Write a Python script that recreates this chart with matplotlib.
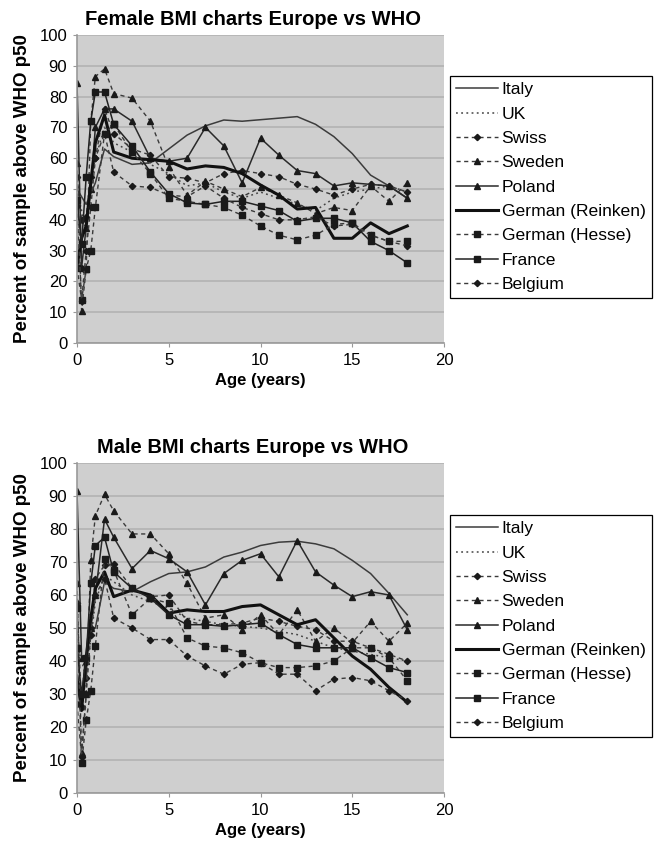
import matplotlib
matplotlib.use("Agg")
import matplotlib.pyplot as plt

plt.rcParams['font.family'] = ['Liberation Sans', 'DejaVu Sans']

# Age points (years)
ages = [0, 0.25, 0.5, 0.75, 1, 1.5, 2, 3, 4, 5, 6, 7, 8, 9, 10, 11, 12, 13, 14, 15, 16, 17, 18]
ages_short = [0, 0.5, 1, 1.5, 2, 3, 4, 5, 6, 7, 8, 9, 10, 11, 12, 13, 14, 15, 16, 17, 18]

series_names = ["Italy", "UK", "Swiss", "Sweden", "Poland",
                "German (Reinken)", "German (Hesse)", "France", "Belgium"]

# Female - percent of sample above WHO p50
f_italy = [50, 45, 52, 63, 60.5, 58, 58.5, 63, 67.5, 70.5, 72.4, 72, 72.5, 73, 73.5, 71, 67, 61.5, 54.5, 51, 47]
f_uk = [50, 36, 60, 70, 65, 62, 58, 55, 51, 52, 49, 47, 49, 47, 45, 43, 47, 49, 50, 51, 49]
f_swiss = [54, 40, 41, 54, 60, 76, 68, 63, 61, 54, 53.5, 52, 55, 56, 55, 54, 51.5, 50, 48, 50, 51.5, 51, 49]
f_sweden = [58.5, 10.5, 24, 72, 86.5, 89, 81, 79.5, 72, 57, 48, 52.5, 50, 47.5, 50.5, 48, 45.5, 42, 44, 43, 51, 46, 52]
f_poland = [84.5, 24.5, 37.5, 50, 70, 76, 76, 72, 60, 59, 60, 70, 64, 52, 66.5, 61, 56, 55, 51, 52, 51.5, 51, 47]
f_reinken = [25, 34, 38, 52, 65, 74, 62, 60, 59.5, 59, 56.5, 57.5, 57, 55, 51.3, 48, 43.5, 44, 34, 34, 39, 35.5, 38]
f_hesse = [24.5, 14, 24, 30, 44, 68, 71, 62, 55, 47, 46, 45, 44, 41.5, 38, 35, 33.5, 35, 38.5, 39, 35, 33, 33]
f_france = [46.5, 32, 54, 72, 81.5, 81.5, 71, 64, 55.5, 48.5, 45.5, 45, 46, 46, 44.5, 43, 39.5, 40.5, 40.5, 39, 33, 30, 26]
f_belgium = [44.5, 13.5, 30, 44, 60, 68, 55.5, 51, 50.5, 48, 47.5, 51, 47, 44, 42, 40, 40, 41, 38, 38.5, 35, 33, 31.5]

# Male
m_italy = [50, 50, 50, 64, 62, 61, 64, 66.5, 67, 68.5, 71.5, 73, 75, 76, 76.3, 75.5, 74, 70.5, 66.5, 60.5, 54]
m_uk = [45, 35, 58, 66, 64, 60, 58, 56, 53, 52, 51, 50.5, 50, 49, 48, 46, 44, 43, 42, 41, 40]
m_swiss = [57.5, 26, 35, 50, 65, 69, 69.5, 62, 59.5, 60, 52, 51, 51, 51.5, 53, 52, 50.5, 49.5, 46, 46, 44, 42, 40]
m_sweden = [63.5, 12, 30, 70.5, 84, 90.5, 85.5, 78.5, 78.5, 72.5, 63.5, 53, 54, 49.5, 54, 48, 55.5, 46, 50, 45.5, 52, 46, 51.5]
m_poland = [91.5, 41, 40, 50, 60, 83, 77.5, 68, 73.5, 71, 67, 57, 66.5, 70.5, 72.5, 65.5, 76.5, 67, 63, 59.5, 61, 60, 49.5]
m_reinken = [35.5, 25, 41, 53, 62, 67, 59.5, 61.5, 60, 54.5, 55.5, 55, 55, 56.5, 57, 54, 51, 52.5, 47, 41.5, 37.5, 32, 27.5]
m_hesse = [56, 9, 22, 31, 44.5, 71, 67.5, 54, 59, 57.5, 47, 44.5, 44, 42.5, 39.5, 38, 38, 38.5, 40, 44, 44, 41, 34]
m_france = [44, 30, 41, 63.5, 75, 77.5, 67, 62, 59, 54, 51, 51, 50.5, 51, 51.5, 48, 45, 44, 44, 44, 41, 38, 36.5]
m_belgium = [27, 11, 30, 48, 60, 65, 53, 50, 46.5, 46.5, 41.5, 38.5, 36, 39, 39.5, 36, 36, 31, 34.5, 35, 34, 31, 28]

female = [f_italy, f_uk, f_swiss, f_sweden, f_poland, f_reinken, f_hesse, f_france, f_belgium]
male = [m_italy, m_uk, m_swiss, m_sweden, m_poland, m_reinken, m_hesse, m_france, m_belgium]

dash = (0, (3, 2.5))
styles = {
    "Italy": dict(ls="-", lw=1.1, color="#3c3c3c"),
    "UK": dict(ls=(0, (1.2, 2.2)), lw=1.1, color="#444444"),
    "Swiss": dict(ls=dash, lw=1.0, color="#3a3a3a", marker="D", ms=3.2),
    "Sweden": dict(ls=dash, lw=1.0, color="#3a3a3a", marker="^", ms=4.5),
    "Poland": dict(ls="-", lw=1.1, color="#2a2a2a", marker="^", ms=4.5),
    "German (Reinken)": dict(ls="-", lw=2.2, color="#111111"),
    "German (Hesse)": dict(ls=dash, lw=1.0, color="#3a3a3a", marker="s", ms=4),
    "France": dict(ls="-", lw=1.1, color="#222222", marker="s", ms=4),
    "Belgium": dict(ls=dash, lw=1.0, color="#3a3a3a", marker="D", ms=3.2),
}

fig = plt.figure(figsize=(6.57, 8.48), dpi=100)
W, H = 657, 848


def panel(rect_px, data, title, title_x, leg_top):
    l, t, r, b = rect_px
    ax = fig.add_axes([l / W, 1 - b / H, (r - l) / W, (b - t) / H])
    ax.set_facecolor("#cfcfcf")
    ax.set_axisbelow(True)
    ax.yaxis.grid(True, color="#b3b3b3", lw=1.2)
    handles = []
    for name, vals in zip(series_names, data):
        xs = ages_short if len(vals) == len(ages_short) else ages
        st = styles[name]
        h, = ax.plot(xs, vals, label=name, markeredgecolor="#1a1a1a",
                     markerfacecolor="#1a1a1a", **st)
        handles.append(h)
    ax.set_xlim(0, 20)
    ax.set_ylim(0, 100)
    ax.set_xticks([0, 5, 10, 15, 20])
    ax.set_yticks(range(0, 101, 10))
    ax.tick_params(labelsize=12, length=3, color="#999999", pad=4)
    for s in ["top", "right"]:
        ax.spines[s].set_visible(False)
    for s in ["left", "bottom"]:
        ax.spines[s].set_color("#9a9a9a")
        ax.spines[s].set_linewidth(1.2)
    ax.set_title(title, fontsize=14.5, fontweight="bold", x=title_x, pad=7)
    ax.set_xlabel("Age (years)", fontsize=12, fontweight="bold", labelpad=4)
    ax.set_ylabel("Percent of sample above WHO p50", fontsize=13.5, fontweight="bold")
    ax.yaxis.set_label_coords(-0.125, 0.5)
    leg = ax.legend(handles, series_names, loc="upper left",
                    bbox_to_anchor=(450 / W, 1 - leg_top / H),
                    bbox_transform=fig.transFigure, borderaxespad=0,
                    fancybox=False, edgecolor="black", framealpha=1,
                    fontsize=12.6, labelspacing=0.52, handlelength=2.4,
                    handletextpad=0.2, borderpad=0.35, numpoints=1)
    leg.get_frame().set_linewidth(0.9)
    return ax


panel((77, 35, 444, 343), female, "Female BMI charts Europe vs WHO", 0.48, 76)
panel((77, 463, 444, 793), male, "Male BMI charts Europe vs WHO", 0.48, 515)

fig.savefig("out.png", dpi=100)
